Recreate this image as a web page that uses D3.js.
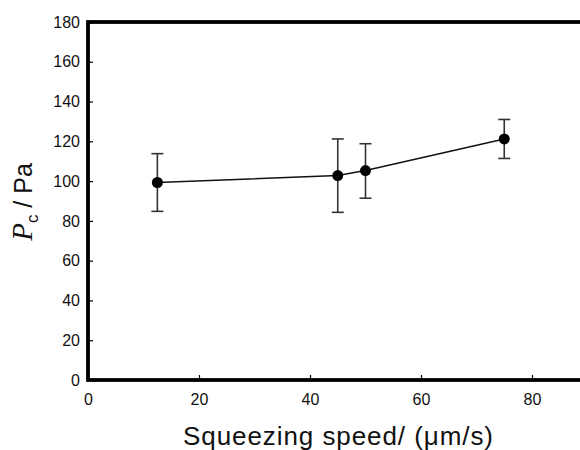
<!DOCTYPE html>
<html>
<head>
<meta charset="utf-8">
<script src="https://cdn.jsdelivr.net/npm/d3@7"></script>
<style>
  body { margin: 0; background: #fff; }
  text { font-family: Arial, "Liberation Sans", sans-serif; }
</style>
</head>
<body>
<div id="chart"></div>
<script>
// data
var speed = [12.5, 45, 50, 75];
var pressure = [99.3, 102.8, 105.3, 121.2];
var errTop = [113.8, 121.2, 118.8, 131.0];
var errBottom = [84.8, 84.3, 91.4, 111.4];
var xTicks = [0, 20, 40, 60, 80];
var yTicks = [0, 20, 40, 60, 80, 100, 120, 140, 160, 180];

var cfg = {
    w: 580,
    h: 450,
    left: 88,
    top: 22,
    bottom: 380
};

var x = d3.scaleLinear().domain([0, 100]).range([cfg.left, cfg.left + 555]);
var y = d3.scaleLinear().domain([0, 180]).range([cfg.bottom, cfg.top]);

var svg = d3.select("#chart")
    .append("svg")
    .attr("width", cfg.w)
    .attr("height", cfg.h);

// frame
svg.append("rect")
    .attr("x", x(0))
    .attr("y", y(180))
    .attr("width", x(100) - x(0))
    .attr("height", y(0) - y(180))
    .attr("fill", "none")
    .attr("stroke", "#000")
    .attr("stroke-width", 3.8);

// axes, ticks pointing inward
var xAxis = svg.append("g")
    .attr("transform", "translate(0," + y(0) + ")")
    .call(d3.axisBottom(x).tickValues(xTicks).tickSizeInner(-5).tickSizeOuter(0).tickPadding(14));
var yAxis = svg.append("g")
    .attr("transform", "translate(" + x(0) + ",0)")
    .call(d3.axisLeft(y).tickValues(yTicks).tickSizeInner(-5).tickSizeOuter(0).tickPadding(8));

[xAxis, yAxis].forEach(function(a) {
    a.select(".domain").remove();
    a.selectAll(".tick line").attr("stroke", "#000").attr("stroke-width", 1.2);
    a.selectAll(".tick text")
        .attr("fill", "#111")
        .style("font-size", "16px")
        .style("font-family", "Arial, 'Liberation Sans', sans-serif");
});

// error bars
var pts = speed.map(function(d, i) {
    return { x: d, y: pressure[i], hi: errTop[i], lo: errBottom[i] };
});

var eb = svg.append("g").attr("stroke", "#333").attr("stroke-width", 1.6);
eb.selectAll(".stem")
    .data(pts)
    .enter()
    .append("line")
    .attr("x1", function(d) { return x(d.x); })
    .attr("x2", function(d) { return x(d.x); })
    .attr("y1", function(d) { return y(d.hi); })
    .attr("y2", function(d) { return y(d.lo); });
["hi", "lo"].forEach(function(k) {
    eb.selectAll(".cap-" + k)
        .data(pts)
        .enter()
        .append("line")
        .attr("x1", function(d) { return x(d.x) - 6; })
        .attr("x2", function(d) { return x(d.x) + 6; })
        .attr("y1", function(d) { return y(d[k]); })
        .attr("y2", function(d) { return y(d[k]); });
});

// line
var line = d3.line()
    .x(function(d) { return x(d.x); })
    .y(function(d) { return y(d.y); });

svg.append("path")
    .datum(pts)
    .attr("d", line)
    .attr("fill", "none")
    .attr("stroke", "#111")
    .attr("stroke-width", 1.5);

svg.selectAll(".dot")
    .data(pts)
    .enter()
    .append("circle")
    .attr("cx", function(d) { return x(d.x); })
    .attr("cy", function(d) { return y(d.y); })
    .attr("r", 5.5)
    .attr("fill", "#000");

// x title
svg.append("text")
    .attr("x", 338)
    .attr("y", 445)
    .style("text-anchor", "middle")
    .style("font-size", "26px")
    .attr("textLength", 310)
    .attr("fill", "#111")
    .text("Squeezing speed/ (\u03bcm/s)");

// y title
var yt = svg.append("text")
    .attr("transform", "translate(32,202) rotate(-90)")
    .style("text-anchor", "middle")
    .style("font-size", "25px")
    .attr("fill", "#111");
yt.append("tspan")
    .style("font-family", "'Liberation Serif', 'Times New Roman', serif")
    .style("font-style", "italic")
    .style("font-size", "29px")
    .text("P");
yt.append("tspan")
    .attr("dy", 6)
    .style("font-size", "17px")
    .text("c");
yt.append("tspan")
    .attr("dy", -6)
    .text(" / Pa");
</script>
</body>
</html>
